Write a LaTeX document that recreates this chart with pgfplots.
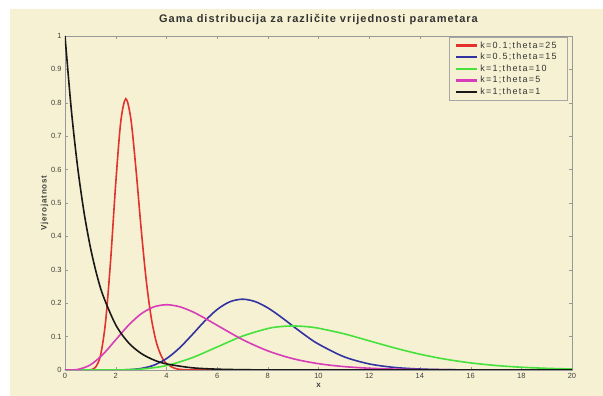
\documentclass[border=0pt]{standalone}
\usepackage{pgfplots}
\pgfplotsset{compat=1.18}
\usepackage{fontspec}
\setmainfont{Liberation Sans}
\definecolor{cream}{RGB}{246,241,210}
\definecolor{cred}{RGB}{225,50,45}
\definecolor{cblue}{RGB}{50,50,160}
\definecolor{cgreen}{RGB}{70,225,60}
\definecolor{cmag}{RGB}{215,60,185}
\definecolor{cblack}{RGB}{25,25,25}
\begin{document}
\begin{tikzpicture}
\useasboundingbox (-65pt,-26pt) rectangle (538pt,370pt);
\fill[white] (-65pt,-26pt) rectangle (538pt,370pt);
\fill[cream] (-55pt,-26pt) rectangle (538pt,361pt);
\begin{axis}[
  at={(0,0)}, anchor=south west,
  scale only axis, width=507pt, height=334pt,
  xmin=0, xmax=20, ymin=0, ymax=1,
  xtick={0,2,...,20}, ytick={0,0.1,...,1},
  yticklabel style={/pgf/number format/fixed},
  /pgf/number format/assume math mode=true,
  tick label style={font=\fontsize{7.5}{8}\selectfont, text=black!75},
  tick align=inside, major tick length=3pt,
  axis line style={draw=gray!80},
  tick style={gray!80},
  title={\bfseries Gama distribucija za različite vrijednosti parametara},
  title style={font=\fontsize{11}{12}\selectfont\addfontfeature{LetterSpace=9}, text=black!80, at={(0.5,1)}, yshift=2pt},
  xlabel={x}, ylabel={Vjerojatnost},
  label style={font=\fontsize{8}{9}\selectfont\bfseries\addfontfeature{LetterSpace=10}, text=black!75},
  xlabel style={yshift=2pt},
  ylabel style={yshift=-4pt},
  legend style={at={(0.99,0.997)}, anchor=north east, draw=gray!70, fill=cream,
    font=\fontsize{9}{10}\selectfont\addfontfeature{LetterSpace=14}, text=black!80,
    row sep=0pt, inner xsep=7pt, inner ysep=2.5pt,
    nodes={inner xsep=3pt, inner ysep=1.8pt, fill=none}},
  legend cell align=left,
  legend image code/.code={\fill[#1, draw=none] (0pt,-1.15pt) rectangle (21pt,1.15pt);},
  every axis plot/.append style={line width=1.6pt},
]
\addplot[color=cred, smooth] coordinates {(0,0) (0.8,0) (1.0,0.0007) (1.2,0.0079) (1.4,0.0431) (1.6,0.1438) (1.8,0.3287) (2.0,0.5573) (2.2,0.7435) (2.4,0.8122) (2.6,0.7504) (2.8,0.6010) (3.0,0.4263) (3.2,0.2715) (3.4,0.1574) (3.6,0.0840) (3.8,0.0416) (4.0,0.0193) (4.4,0.0035) (5,0.0002) (6,0) (20,0)};
\addlegendentry{k=0.1;theta=25}
\addplot[color=cblue, smooth] coordinates {(0,0) (1.5,0) (2,0.0001) (2.5,0.0009) (3,0.0045) (3.5,0.0142) (4,0.0339) (4.5,0.0648) (5,0.1042) (5.5,0.1455) (6,0.1810) (6.5,0.2042) (7,0.2120) (7.5,0.2049) (8,0.1860) (8.5,0.1600) (9,0.1310) (9.5,0.1027) (10,0.0775) (11,0.0398) (12,0.0182) (13,0.0076) (14,0.0029) (15,0.0010) (16,0.0003) (18,0) (20,0)};
\addlegendentry{k=0.5;theta=15}
\addplot[color=cgreen, smooth] coordinates {(0,0) (1,0) (2,0.0002) (3,0.0027) (4,0.0132) (5,0.0363) (6,0.0688) (7,0.1014) (8,0.1241) (8.5,0.1299) (9,0.1318) (9.5,0.1300) (10,0.1251) (11,0.1085) (12,0.0874) (13,0.0661) (14,0.0473) (15,0.0324) (16,0.0213) (17,0.0135) (18,0.0083) (19,0.0050) (20,0.0029)};
\addlegendentry{k=1;theta=10}
\addplot[color=cmag, smooth] coordinates {(0,0) (0.5,0.0016) (1,0.0153) (1.5,0.0471) (2,0.0902) (2.5,0.1336) (3,0.1680) (3.5,0.1888) (4,0.1954) (4.5,0.1898) (5,0.1755) (5.5,0.1558) (6,0.1339) (7,0.0912) (8,0.0573) (9,0.0337) (10,0.0189) (11,0.0102) (12,0.0053) (13,0.0027) (14,0.0013) (16,0.0003) (18,0.0001) (20,0)};
\addlegendentry{k=1;theta=5}
\addplot[color=cblack, smooth] coordinates {(0,1) (0.25,0.7788) (0.5,0.6065) (0.75,0.4724) (1,0.3679) (1.25,0.2865) (1.5,0.2231) (2,0.1353) (2.5,0.0821) (3,0.0498) (3.5,0.0302) (4,0.0183) (5,0.0067) (6,0.0025) (7,0.0009) (8,0.0003) (10,0) (20,0)};
\addlegendentry{k=1;theta=1}
\end{axis}
\end{tikzpicture}
\end{document}
